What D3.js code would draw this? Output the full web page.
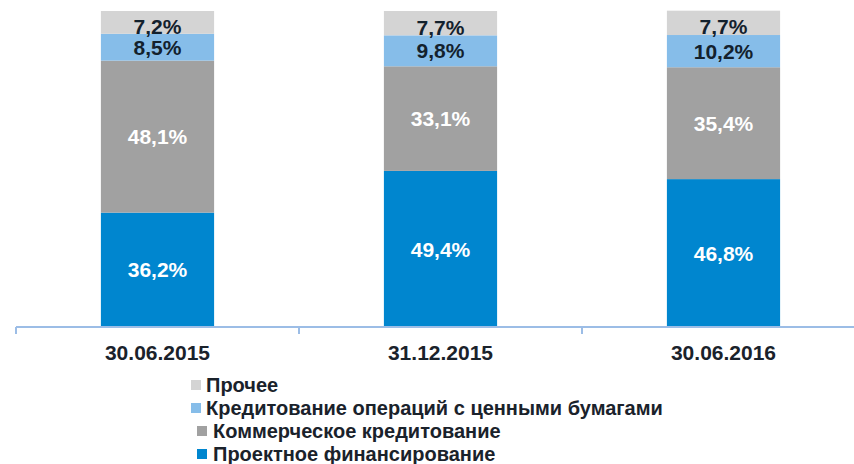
<!DOCTYPE html>
<html>
<head>
<meta charset="utf-8">
<script src="https://cdn.jsdelivr.net/npm/d3@7"></script>
<style>
  body { margin: 0; background: #fff; }
  text { font-family: "Liberation Sans", Arial, sans-serif; font-weight: bold; }
</style>
</head>
<body>
<svg id="chart" width="854" height="464"></svg>
<script>
// data
let dates = ["30.06.2015", "31.12.2015", "30.06.2016"];
let seriesNames = ["Проектное финансирование", "Коммерческое кредитование",
                   "Кредитование операций с ценными бумагами", "Прочее"];
let project = [36.2, 49.4, 46.8];
let commercial = [48.1, 33.1, 35.4];
let securities = [8.5, 9.8, 10.2];
let other = [7.2, 7.7, 7.7];
let colors = ["#0086cf", "#a1a1a1", "#86bde9", "#d4d4d4"];
let labelColors = ["#fff", "#fff", "#13212d", "#13212d"];

let svg = d3.select("#chart");

let rows = dates.map((d, i) => ({
    date: d, s0: project[i], s1: commercial[i], s2: securities[i], s3: other[i]
}));
let keys = ["s0", "s1", "s2", "s3"];
let stacked = d3.stack().keys(keys)(rows);

let x = d3.scaleBand().domain(dates).range([16, 865]).padding(0);
let y = d3.scaleLinear().domain([0, 100]).range([327, 11]);
let barW = x.bandwidth() * 0.4;

// bars
let layers = svg.append("g").selectAll("g.layer")
    .data(stacked)
    .enter().append("g")
    .attr("class", "layer")
    .style("fill", (d, i) => colors[i]);

layers.selectAll("rect")
    .data(d => d)
    .enter().append("rect")
    .attr("x", d => x(d.data.date) + (x.bandwidth() - barW) / 2)
    .attr("y", d => y(d[1]))
    .attr("width", barW)
    .attr("height", d => y(d[0]) - y(d[1]));

// value labels
layers.each(function(layer, li) {
    d3.select(this).selectAll("text")
        .data(layer)
        .enter().append("text")
        .attr("x", d => x(d.data.date) + x.bandwidth() / 2)
        .attr("y", d => (y(d[0]) + y(d[1])) / 2 + (li === 3 ? 4 : 0))
        .attr("dy", "0.36em")
        .attr("text-anchor", "middle")
        .style("font-size", "21px")
        .style("fill", labelColors[li])
        .text(d => String(d.data[layer.key].toFixed(1)).replace(".", ",") + "%");
});

// axis
let axis = svg.append("g").attr("transform", "translate(0,327)");
axis.append("line")
    .attr("x1", 16).attr("x2", 865)
    .style("stroke", "#9cbde6").style("stroke-width", 2);
axis.selectAll("line.tick")
    .data([16].concat(dates.map(d => x(d) + x.bandwidth())))
    .enter().append("line")
    .attr("class", "tick")
    .attr("x1", d => d).attr("x2", d => d)
    .attr("y1", 0).attr("y2", 7)
    .style("stroke", "#9cbde6").style("stroke-width", 2);
axis.selectAll("text")
    .data(dates)
    .enter().append("text")
    .attr("x", d => x(d) + x.bandwidth() / 2)
    .attr("y", 33)
    .attr("text-anchor", "middle")
    .style("font-size", "21px")
    .style("fill", "#1a222b")
    .text(d => d);

// legend (top to bottom: Прочее first)
let legendOrder = [3, 2, 1, 0];
let legend = svg.append("g");
legendOrder.forEach((si, row) => {
    let yy = 392 + row * 23;
    let sx = row < 2 ? 191 : 197;
    let tx = row < 2 ? 206 : 213;
    legend.append("rect")
        .attr("x", sx).attr("y", yy - 12)
        .attr("width", 10).attr("height", 10)
        .style("fill", colors[si]);
    legend.append("text")
        .attr("x", tx).attr("y", yy)
        .style("font-size", "20px")
        .style("fill", "#1a222b")
        .text(seriesNames[si]);
});
</script>
</body>
</html>
